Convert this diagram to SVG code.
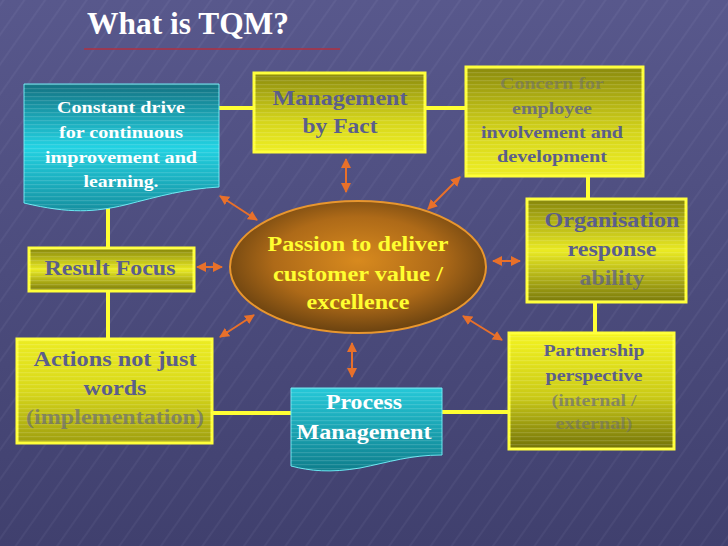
<svg xmlns="http://www.w3.org/2000/svg" width="728" height="546" viewBox="0 0 728 546">
<defs>
<linearGradient id="bg" x1="0" y1="0" x2="0" y2="1"><stop offset="0" stop-color="#58588c"/><stop offset="1" stop-color="#40406e"/></linearGradient>
<pattern id="diag" width="17" height="17" patternUnits="userSpaceOnUse" patternTransform="rotate(35)"><line x1="3" y1="0" x2="3" y2="17" stroke="#c8c8f0" stroke-width="0.6" stroke-opacity="0.2"/></pattern>
<pattern id="stripes" width="4" height="4" patternUnits="userSpaceOnUse"><rect width="4" height="1.2" fill="#ffffff" fill-opacity="0.13"/></pattern>
<linearGradient id="yDarkTop" x1="0" y1="0" x2="0" y2="1"><stop offset="0" stop-color="#8a8a0c"/><stop offset="0.6" stop-color="#d4d41a"/><stop offset="1" stop-color="#eeee24"/></linearGradient>
<linearGradient id="yMid" x1="0" y1="0" x2="0" y2="1"><stop offset="0" stop-color="#84840a"/><stop offset="0.5" stop-color="#eaea22"/><stop offset="1" stop-color="#7a7a0a"/></linearGradient>
<linearGradient id="yBrightTop" x1="0" y1="0" x2="0" y2="1"><stop offset="0" stop-color="#f4f420"/><stop offset="0.55" stop-color="#caca16"/><stop offset="1" stop-color="#727208"/></linearGradient>
<linearGradient id="yAct" x1="0" y1="0" x2="0" y2="1"><stop offset="0" stop-color="#ecec22"/><stop offset="0.5" stop-color="#d8d81a"/><stop offset="1" stop-color="#9e9e0e"/></linearGradient>
<linearGradient id="cyanA" x1="0" y1="0" x2="0" y2="1"><stop offset="0" stop-color="#137282"/><stop offset="0.5" stop-color="#22d2e2"/><stop offset="1" stop-color="#1590a0"/></linearGradient>
<linearGradient id="cyanB" x1="0" y1="0" x2="0" y2="1"><stop offset="0" stop-color="#25c8d8"/><stop offset="1" stop-color="#0e7e8c"/></linearGradient>
<radialGradient id="ell" cx="0.5" cy="0.45" r="0.55"><stop offset="0" stop-color="#d88a1e"/><stop offset="0.6" stop-color="#ae6a18"/><stop offset="1" stop-color="#6a4210"/></radialGradient>
<marker id="ah" viewBox="0 0 10 10" refX="9" refY="5" markerWidth="5" markerHeight="5" orient="auto-start-reverse" markerUnits="strokeWidth"><path d="M0,0 L10,5 L0,10 Z" fill="#e8702a"/></marker>
</defs>
<style>
.ybox{stroke:#ffff3a;stroke-width:3}
.cbox{stroke:#6ae8f2;stroke-width:1}
.ylink{stroke:#ffff33;stroke-width:4;fill:none}
.arr{stroke:#e8702a;stroke-width:2;fill:none;marker-start:url(#ah);marker-end:url(#ah)}
text{font-family:"Liberation Serif","Times New Roman",serif;font-weight:bold;text-anchor:middle}
.dk{fill:#5b5e8c}
.wt{fill:#ffffff}
.ye{fill:#ffff30}
</style>
<rect width="728" height="546" fill="url(#bg)"/>
<rect width="728" height="546" fill="url(#diag)"/>

<text x="188" y="34" font-size="31" fill="#ffffff" font-family="Liberation Serif, serif" textLength="202" lengthAdjust="spacingAndGlyphs">What is TQM?</text>
<line x1="84" y1="49" x2="340" y2="49" stroke="#b03040" stroke-width="1.5"/>

<g id="connectors">
<line class="ylink" x1="218" y1="108" x2="256" y2="108"/>
<line class="ylink" x1="424" y1="108" x2="467" y2="108"/>
<line class="ylink" x1="588" y1="176" x2="588" y2="200"/>
<line class="ylink" x1="595" y1="302" x2="595" y2="334"/>
<line class="ylink" x1="442" y1="412" x2="510" y2="412"/>
<line class="ylink" x1="211" y1="413" x2="292" y2="413"/>
<line class="ylink" x1="108" y1="291" x2="108" y2="339"/>
<line class="ylink" x1="108" y1="208" x2="108" y2="248"/>
<line class="arr" x1="346" y1="159" x2="346" y2="192"/>
<line class="arr" x1="220" y1="196" x2="257" y2="220"/>
<line class="arr" x1="460" y1="177" x2="428" y2="209"/>
<line class="arr" x1="493" y1="261" x2="520" y2="261"/>
<line class="arr" x1="197" y1="267" x2="222" y2="267"/>
<line class="arr" x1="220" y1="337" x2="254" y2="315"/>
<line class="arr" x1="463" y1="316" x2="502" y2="340"/>
<line class="arr" x1="352" y1="343" x2="352" y2="377"/>
</g>

<g id="constant-drive">
<path class="cbox" d="M24,84 H219 V187 C185,189 160,196 125,205 C95,212 70,214 24,203 Z" fill="url(#cyanA)"/>
<path d="M24,84 H219 V187 C185,189 160,196 125,205 C95,212 70,214 24,203 Z" fill="url(#stripes)"/>
<text class="wt" x="121" y="113" font-size="17" textLength="128" lengthAdjust="spacingAndGlyphs">Constant drive</text>
<text class="wt" x="121" y="138" font-size="17" textLength="124" lengthAdjust="spacingAndGlyphs">for continuous</text>
<text class="wt" x="121" y="163" font-size="17" textLength="152" lengthAdjust="spacingAndGlyphs">improvement and</text>
<text class="wt" x="121" y="187" font-size="17" textLength="75" lengthAdjust="spacingAndGlyphs">learning.</text>
</g>

<g id="management-by-fact">
<rect class="ybox" x="254" y="73" width="171" height="79" fill="url(#yDarkTop)"/>
<rect x="254" y="73" width="171" height="79" fill="url(#stripes)"/>
<text class="dk" x="340" y="105" font-size="21" textLength="135" lengthAdjust="spacingAndGlyphs">Management</text>
<text class="dk" x="340" y="133" font-size="21" textLength="75" lengthAdjust="spacingAndGlyphs">by Fact</text>
</g>

<g id="concern">
<rect class="ybox" x="466" y="67" width="177" height="109" fill="url(#yDarkTop)"/>
<rect x="466" y="67" width="177" height="109" fill="url(#stripes)"/>
<text class="dk" x="552" y="89" font-size="16" textLength="104" lengthAdjust="spacingAndGlyphs" fill-opacity="0.45">Concern for</text>
<text class="dk" x="552" y="114" font-size="16" textLength="80" lengthAdjust="spacingAndGlyphs" fill-opacity="0.8">employee</text>
<text class="dk" x="552" y="138" font-size="16" textLength="142" lengthAdjust="spacingAndGlyphs">involvement and</text>
<text class="dk" x="552" y="162" font-size="16" textLength="110" lengthAdjust="spacingAndGlyphs">development</text>
</g>

<g id="organisation">
<rect class="ybox" x="527" y="199" width="159" height="103" fill="url(#yMid)"/>
<rect x="527" y="199" width="159" height="103" fill="url(#stripes)"/>
<text class="dk" x="612" y="227" font-size="21" textLength="135" lengthAdjust="spacingAndGlyphs">Organisation</text>
<text class="dk" x="612" y="256" font-size="21" textLength="89" lengthAdjust="spacingAndGlyphs">response</text>
<text class="dk" x="612" y="285" font-size="21" textLength="65" lengthAdjust="spacingAndGlyphs" fill-opacity="0.75">ability</text>
</g>

<g id="partnership">
<rect class="ybox" x="509" y="333" width="165" height="116" fill="url(#yBrightTop)"/>
<rect x="509" y="333" width="165" height="116" fill="url(#stripes)"/>
<text class="dk" x="594" y="356" font-size="16" textLength="101" lengthAdjust="spacingAndGlyphs">Partnership</text>
<text class="dk" x="594" y="381" font-size="16" textLength="97" lengthAdjust="spacingAndGlyphs">perspective</text>
<text class="dk" x="594" y="406" font-size="16" textLength="85" lengthAdjust="spacingAndGlyphs" fill-opacity="0.6">(internal /</text>
<text class="dk" x="594" y="429" font-size="16" textLength="77" lengthAdjust="spacingAndGlyphs" fill-opacity="0.45">external)</text>
</g>

<g id="process-management">
<path class="cbox" d="M291,388 H442 V455 C410,455 390,462 360,468 C330,473 310,471 291,466 Z" fill="url(#cyanB)"/>
<path d="M291,388 H442 V455 C410,455 390,462 360,468 C330,473 310,471 291,466 Z" fill="url(#stripes)"/>
<text class="wt" x="364" y="409" font-size="20" textLength="76" lengthAdjust="spacingAndGlyphs">Process</text>
<text class="wt" x="364" y="439" font-size="20" textLength="135" lengthAdjust="spacingAndGlyphs">Management</text>
</g>

<g id="actions">
<rect class="ybox" x="17" y="339" width="195" height="104" fill="url(#yAct)"/>
<rect x="17" y="339" width="195" height="104" fill="url(#stripes)"/>
<text class="dk" x="115" y="366" font-size="21" textLength="163" lengthAdjust="spacingAndGlyphs">Actions not just</text>
<text class="dk" x="115" y="395" font-size="21" textLength="63" lengthAdjust="spacingAndGlyphs">words</text>
<text class="dk" x="115" y="424" font-size="21" textLength="178" lengthAdjust="spacingAndGlyphs" fill-opacity="0.6">(implementation)</text>
</g>

<g id="result-focus">
<rect class="ybox" x="29" y="248" width="165" height="43" fill="url(#yMid)"/>
<rect x="29" y="248" width="165" height="43" fill="url(#stripes)"/>
<text class="dk" x="110" y="275" font-size="20" textLength="131" lengthAdjust="spacingAndGlyphs">Result Focus</text>
</g>

<g id="passion">
<ellipse cx="358" cy="267" rx="128" ry="66" fill="url(#ell)" stroke="#e8962e" stroke-width="2"/>
<text class="ye" x="358" y="251" font-size="21" textLength="181" lengthAdjust="spacingAndGlyphs">Passion to deliver</text>
<text class="ye" x="358" y="281" font-size="21" textLength="170" lengthAdjust="spacingAndGlyphs">customer value /</text>
<text class="ye" x="358" y="309" font-size="21" textLength="103" lengthAdjust="spacingAndGlyphs">excellence</text>
</g>
</svg>
